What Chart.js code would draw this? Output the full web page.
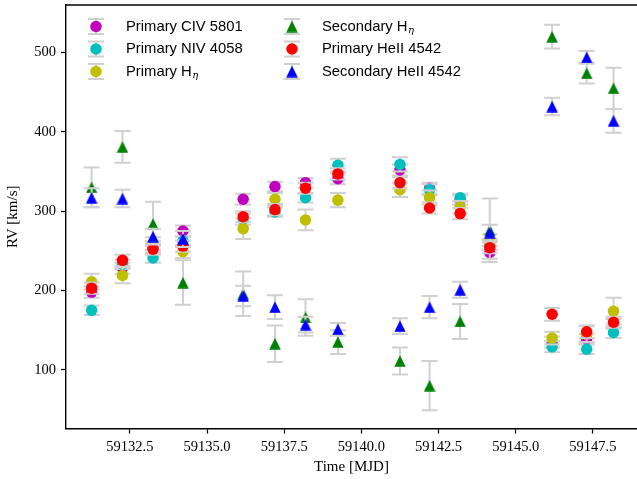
<!DOCTYPE html>
<html>
<head>
<meta charset="utf-8">
<script src="https://cdn.jsdelivr.net/npm/chart.js@4.4.1/dist/chart.umd.min.js"></script>
<style>
  html, body { margin: 0; padding: 0; background: #fff; overflow: hidden; }
  canvas { display: block; }
</style>
</head>
<body>
<canvas id="rvChart" width="637" height="479"></canvas>
<script>
// observation epochs
const mjd = [59131.26, 59132.26, 59133.25, 59134.22, 59136.17, 59137.20, 59138.19, 59139.24,
             59141.25, 59142.21, 59143.20, 59144.16, 59146.18, 59147.30, 59148.17];

// radial velocities and errors per line [km/s]
const civPrim   = [198, 228, 255, 275, 315, 331, 336, 341, 352, 329, 314, 248, 135, 139, 158];
const civErr    = [7, 7, 7, 7, 7, 6, 6, 7, 7, 7, 6, 8, 7, 6, 6];
const nivPrim   = [175, 233, 241, 262, 290, 299, 317, 358, 359, 327, 317, 258, 129, 126, 147];
const nivErr    = [6, 6, 6, 6, 7, 6, 6, 8, 9, 7, 5, 7, 7, 6, 7];
const hetaPrim  = [211, 219, 259, 249, 278, 315, 289, 314, 327, 317, 305, 261, 140, 145, 174];
const hetaErr   = [10, 10, 8, 8, 13, 8, 13, 9, 9, 9, 8, 10, 8, 10, 17];
const hetaSec   = [330, 381, 284, 210, 196, 133, 166, 135, 111, 80, 161, 276, 520, 474, 455];
const hetaSecErr= [25, 20, 28, 28, 28, 23, 23, 15, 17, 31, 22, 40, 15, 13, 26];
const heiiPrim  = [203, 238, 252, 256, 293, 302, 329, 347, 336, 304, 297, 254, 170, 148, 160];
const heiiErr   = [7, 7, 7, 7, 7, 7, 7, 7, 7, 7, 7, 7, 8, 8, 7];
const heiiSec   = [317, 316, 268, 265, 193, 179, 157, 151, 155, 179, 201, 273, 432, 494, 414];
const heiiSecErr= [12, 11, 10, 10, 13, 15, 10, 8, 10, 14, 10, 10, 11, 8, 15];

const xTicks = [59132.5, 59135.0, 59137.5, 59140.0, 59142.5, 59145.0, 59147.5];
const yTicks = [100, 200, 300, 400, 500];

const series = [
    { label: 'Primary CIV 5801',    vals: civPrim,  errs: civErr,     color: '#bf00bf', marker: 'circle' },
    { label: 'Primary NIV 4058',    vals: nivPrim,  errs: nivErr,     color: '#00bfbf', marker: 'circle' },
    { label: 'Primary H_η',         vals: hetaPrim, errs: hetaErr,    color: '#bfbf00', marker: 'circle' },
    { label: 'Secondary H_η',       vals: hetaSec,  errs: hetaSecErr, color: '#008000', marker: 'triangle' },
    { label: 'Primary HeII 4542',   vals: heiiPrim, errs: heiiErr,    color: '#ff0000', marker: 'circle' },
    { label: 'Secondary HeII 4542', vals: heiiSec,  errs: heiiSecErr, color: '#0000ff', marker: 'triangle' }
];

const barColor = '#d0d0d0';
const capHalf = 8;
const markerSize = 11.5;

// matplotlib-like '^' marker (bbox centred on the point)
function triangleImage(color) {
    const c = document.createElement('canvas');
    c.width = 12; c.height = 12;
    const g = c.getContext('2d');
    g.fillStyle = color;
    g.beginPath();
    g.moveTo(6, 0.25);
    g.lineTo(11.75, 11.75);
    g.lineTo(0.25, 11.75);
    g.closePath();
    g.fill();
    return c;
}

function drawGlyph(ctx, s, x, y) {
    ctx.strokeStyle = barColor;
    ctx.lineWidth = 2;
    ctx.beginPath();
    ctx.moveTo(x, y - 7.5); ctx.lineTo(x, y + 7.5);
    ctx.moveTo(x - capHalf, y - 7.5); ctx.lineTo(x + capHalf, y - 7.5);
    ctx.moveTo(x - capHalf, y + 7.5); ctx.lineTo(x + capHalf, y + 7.5);
    ctx.stroke();
    ctx.fillStyle = s.color;
    if (s.marker === 'circle') {
        ctx.beginPath();
        ctx.arc(x, y, markerSize / 2, 0, Math.PI * 2);
        ctx.fill();
    } else {
        ctx.drawImage(triangleImage(s.color), x - 6, y - 6);
    }
}

// error bars drawn just before each dataset, like matplotlib errorbar
const errorBars = {
    id: 'errorBars',
    beforeDatasetDraw(chart, args) {
        const ctx = chart.ctx;
        const yScale = chart.scales.y;
        const ds = chart.data.datasets[args.index];
        ctx.save();
        ctx.strokeStyle = barColor;
        ctx.lineWidth = 2;
        args.meta.data.forEach((pt, j) => {
            const v = ds.data[j].y, e = ds.errs[j];
            const top = yScale.getPixelForValue(v + e);
            const bot = yScale.getPixelForValue(v - e);
            ctx.beginPath();
            ctx.moveTo(pt.x, top); ctx.lineTo(pt.x, bot);
            ctx.moveTo(pt.x - capHalf, top); ctx.lineTo(pt.x + capHalf, top);
            ctx.moveTo(pt.x - capHalf, bot); ctx.lineTo(pt.x + capHalf, bot);
            ctx.stroke();
        });
        ctx.restore();
    }
};

// top spine and the two-column legend
const frameAndLegend = {
    id: 'frameAndLegend',
    afterDraw(chart) {
        const ctx = chart.ctx;
        const area = chart.chartArea;
        ctx.save();
        ctx.strokeStyle = '#000';
        ctx.lineWidth = 1.4;
        ctx.beginPath();
        ctx.moveTo(area.left, area.top);
        ctx.lineTo(area.right, area.top);
        ctx.stroke();

        const rows = [26.5, 49, 71.5];
        const cols = [{ m: 96, t: 126 }, { m: 292, t: 322 }];
        series.forEach((s, i) => {
            const col = cols[Math.floor(i / 3)];
            const y = rows[i % 3];
            drawGlyph(ctx, s, col.m, y);
            const parts = s.label.split('_');
            ctx.fillStyle = '#000';
            ctx.textBaseline = 'middle';
            ctx.font = '14.8px "Liberation Sans"';
            ctx.fillText(parts[0], col.t, y);
            if (parts[1]) {
                const w = ctx.measureText(parts[0]).width;
                ctx.font = 'italic 10px "DejaVu Serif"';
                ctx.fillText(parts[1], col.t + w + 0.5, y + 4);
            }
        });
        ctx.restore();
    }
};

const tickFont = { family: 'Liberation Serif', size: 14.5 };

new Chart(document.getElementById('rvChart').getContext('2d'), {
    type: 'scatter',
    data: {
        datasets: series.map((s, i) => ({
            label: s.label,
            data: mjd.map((x, j) => ({ x: x, y: s.vals[j] })),
            errs: s.errs,
            order: series.length - i,
            pointStyle: s.marker === 'circle' ? 'circle' : triangleImage(s.color),
            pointRadius: markerSize / 2,
            backgroundColor: s.color,
            borderColor: s.color,
            borderWidth: 0
        }))
    },
    options: {
        responsive: false,
        animation: false,
        layout: { autoPadding: false, padding: { top: 5, right: 0, left: 0, bottom: 0 } },
        plugins: {
            legend: { display: false },
            tooltip: { enabled: false }
        },
        scales: {
            x: {
                type: 'linear',
                min: 59130.43,
                max: 59148.93,
                afterFit: s => { s.height = 50.5; s.paddingLeft = 0; s.paddingRight = 0; },
                afterBuildTicks: s => { s.ticks = xTicks.map(v => ({ value: v })); },
                ticks: {
                    autoSkip: false, maxRotation: 0, padding: 5,
                    color: '#000', font: tickFont,
                    callback: v => Number(v).toFixed(1)
                },
                grid: { drawOnChartArea: false, drawTicks: true, tickLength: 5, tickWidth: 1.2, tickColor: '#000' },
                border: { display: true, color: '#000', width: 1.4 },
                title: {
                    display: true, text: 'Time [MJD]', color: '#000',
                    font: { family: 'Liberation Serif', size: 15 },
                    padding: { top: 0, bottom: 3 }
                }
            },
            y: {
                min: 26,
                max: 560,
                afterFit: s => { s.width = 66; s.paddingTop = 0; s.paddingBottom = 0; },
                afterBuildTicks: s => { s.ticks = yTicks.map(v => ({ value: v })); },
                ticks: {
                    padding: 5, color: '#000', font: tickFont,
                    callback: v => String(v)
                },
                grid: { drawOnChartArea: false, drawTicks: true, tickLength: 5, tickWidth: 1.2, tickColor: '#000' },
                border: { display: true, color: '#000', width: 1.4 },
                title: {
                    display: true, text: 'RV [km/s]', color: '#000',
                    font: { family: 'Liberation Serif', size: 15 },
                    padding: { top: 4, bottom: 0 }
                }
            }
        }
    },
    plugins: [errorBars, frameAndLegend]
});
</script>
</body>
</html>
